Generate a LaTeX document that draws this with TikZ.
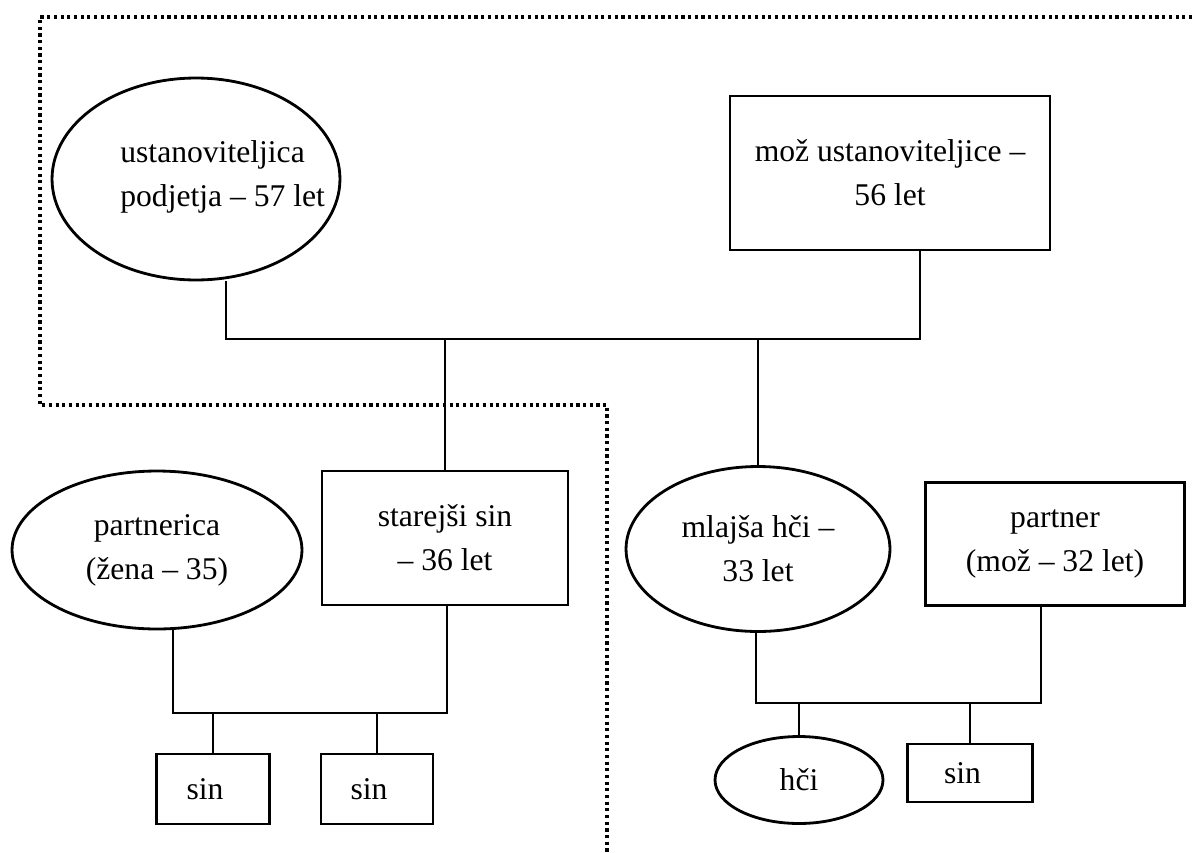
\documentclass[tikz,border=0pt]{standalone}
\usepackage{fontspec}
\setmainfont{Liberation Serif}
\usetikzlibrary{shapes.geometric}

\tikzset{
    member/.style={draw, line width=1.6pt, inner sep=0pt, align=center,
        font={\fontsize{18}{25}\selectfont}},
    famrect/.style={member, rectangle},
    famoval/.style={member, ellipse},
    link/.style={line width=1.6pt},
    frontier/.style={line width=1.8pt, dash pattern=on 1.8pt off 2pt}
}

\begin{document}
\begin{tikzpicture}[x=0.02cm, y=-0.02cm]
        \useasboundingbox (0, 0) rectangle (1192, 852);

        % first generation
        \node [famoval, minimum width=5.76cm, minimum height=4.04cm] (founder) at (196, 179) {};
        \node [font={\fontsize{18}{25}\selectfont}, align=left, anchor=west, inner sep=0pt] (founderText) at (120, 177) {ustanoviteljica\\podjetja – 57 let};
        \node [famrect, minimum width=6.4cm, minimum height=3.08cm] (husband) at (890, 173) {mož ustanoviteljice –\\56 let};

        % second generation
        \node [famoval, minimum width=5.8cm, minimum height=3.16cm] (wife) at (157, 550) {partnerica\\(žena – 35)};
        \node [famrect, minimum width=4.92cm, minimum height=2.68cm] (elderSon) at (445, 538) {starejši sin\\– 36 let};
        \node [famoval, minimum width=5.28cm, minimum height=3.3cm] (daughter) at (758, 549) {mlajša hči –\\33 let};
        \node [famrect, minimum width=5.18cm, minimum height=2.46cm] (partner) at (1055, 544) {partner\\(mož – 32 let)};

        % third generation
        \node [famrect, minimum width=2.26cm, minimum height=1.4cm] (sonA) at (213, 789) {sin\hspace*{0.32cm}};
        \node [famrect, minimum width=2.24cm, minimum height=1.4cm] (sonB) at (377, 789) {sin\hspace*{0.32cm}};
        \node [famoval, minimum width=3.36cm, minimum height=1.74cm] (granddaughter) at (799, 780) {hči};
        \node [famrect, minimum width=2.5cm, minimum height=1.16cm] (sonC) at (970, 773) {sin\hspace*{0.3cm}};

        % bars
        \coordinate (topL) at (226, 339);
        \coordinate (topR) at (920, 339);
        \coordinate (leftL) at (173, 713);
        \coordinate (leftR) at (447, 713);
        \coordinate (rightL) at (756, 703);
        \coordinate (rightR) at (1041, 703);

        \draw [link] (founder.south -| topL) -- (topL) -- (topR) -- (husband.south -| topR);
        \draw [link] (elderSon.north) -- (elderSon.north |- topL);
        \draw [link] (daughter.north) -- (daughter.north |- topL);

        \draw [link] (wife.south -| leftL) -- (leftL) -- (leftR) -- (elderSon.south -| leftR);
        \draw [link] (sonA.north) -- (sonA.north |- leftL);
        \draw [link] (sonB.north) -- (sonB.north |- leftL);

        \draw [link] (daughter.south -| rightL) -- (rightL) -- (rightR) -- (partner.south -| rightR);
        \draw [link] (granddaughter.north) -- (granddaughter.north |- rightL);
        \draw [link] (sonC.north) -- (sonC.north |- rightL);

        % family border
        \draw [frontier] (1192, 17) -- (40, 17) -- (40, 405) -- (607, 405) -- (607, 852);
    \end{tikzpicture}
\end{document}
